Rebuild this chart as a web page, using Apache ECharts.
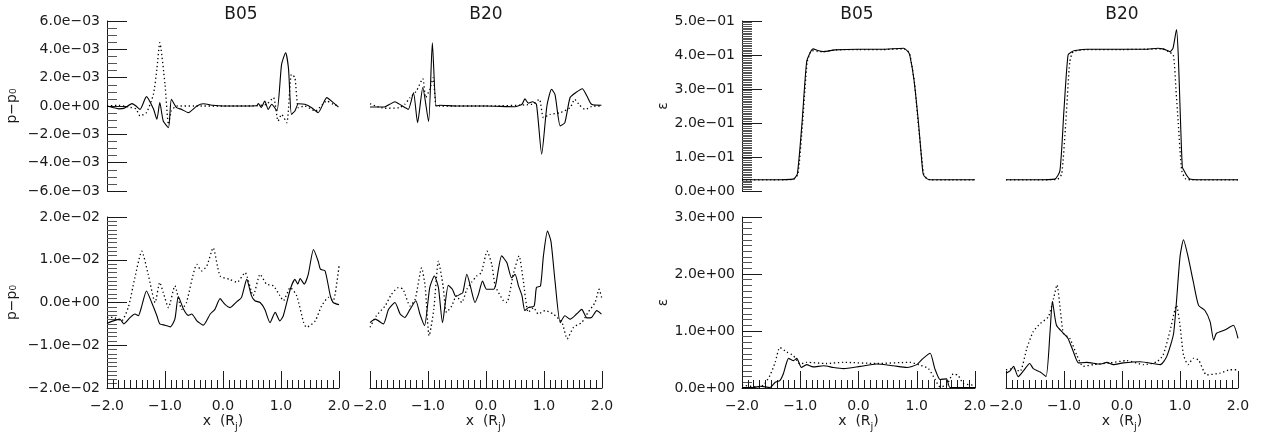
<!DOCTYPE html>
<html>
<head>
<meta charset="utf-8">
<script src="https://cdn.jsdelivr.net/npm/echarts@6/dist/echarts.min.js"></script>
<style>
html,body{margin:0;padding:0;background:#fff;}
#chart{width:1265px;height:441px;}
</style>
</head>
<body>
<div id="chart"></div>
<script>
// ---------- data (x in R_j, value) ----------
const panelTitles = ['B05', 'B20', 'B05', 'B20'];
const xTickLabels = ['−2.0', '−1.0', '0.0', '1.0', '2.0'];

// top row, p - p0
const b05TopPSolid = [[-2.0,0],[-1.9,-0.0001],[-1.8,-0.0002],[-1.7,-0.00015],[-1.57,0.00017],[-1.5,0],[-1.43,-0.00024],[-1.32,0.00066],[-1.2,-0.0002],[-1.14,-0.00094],[-1.09,0.00024],[-1.03,-0.00106],[-0.94,-0.00153],[-0.89,0.00047],[-0.8,-0.00012],[-0.71,-0.00024],[-0.6,-0.00047],[-0.45,0],[-0.34,0.00016],[-0.17,0.00005],[0.0,0],[0.3,0],[0.58,0.00002],[0.61,0.00017],[0.66,-0.0001],[0.72,0.00035],[0.78,-0.00024],[0.84,0.00012],[0.93,-0.00035],[1.01,0.00294],[1.08,0.00376],[1.13,0.0026],[1.18,-0.00059],[1.24,-0.00035],[1.3,0.00016],[1.41,0.00012],[1.53,-0.00012],[1.64,-0.00047],[1.79,0.00059],[1.9,0.00024],[1.99,-0.00007]];
const b05TopPDotted = [[-2.0,0],[-1.8,0.00005],[-1.6,-0.0001],[-1.5,-0.0002],[-1.43,-0.0007],[-1.32,-0.00047],[-1.2,0.00082],[-1.14,0.0026],[-1.09,0.00447],[-1.0,0.00153],[-0.94,-0.0013],[-0.89,-0.00035],[-0.8,0],[-0.5,0],[0,0],[0.5,0],[0.75,0.00012],[0.87,0.00059],[0.95,-0.00106],[1.01,-0.0006],[1.1,-0.00118],[1.18,0.00224],[1.24,0.002],[1.3,-0.00012],[1.41,0],[1.59,-0.00035],[1.79,0.00035],[1.9,0.00012],[1.99,0]];
const b20TopPSolid = [[-2.0,-0.00007],[-1.9,-0.00007],[-1.75,-0.00007],[-1.66,0.00012],[-1.57,0.0003],[-1.5,0.00015],[-1.4,-0.0001],[-1.34,-0.00024],[-1.25,0.00094],[-1.18,-0.00118],[-1.09,0.0013],[-0.99,-0.0011],[-0.925,0.00447],[-0.86,0],[-0.8,0.00005],[-0.5,0],[0,0],[0.5,-0.00005],[0.62,0.00012],[0.67,0.0005],[0.73,0.0002],[0.8,0.0003],[0.87,0.00012],[0.96,-0.0034],[1.05,0],[1.13,0.00118],[1.19,0.0008],[1.28,-0.0014],[1.36,-0.00117],[1.45,0.0006],[1.55,0.00095],[1.66,0.00122],[1.74,0.0007],[1.82,0.00012],[1.99,0.00005]];
const b20TopPDotted = [[-2.0,0.00016],[-1.9,0],[-1.75,-0.00016],[-1.5,-0.00012],[-1.4,0.00012],[-1.31,0.00059],[-1.2,0.00106],[-1.09,0.00193],[-1.04,0.00059],[-0.97,0.00118],[-0.91,0.002],[-0.86,0],[-0.8,0],[0,0],[0.8,0.00012],[0.92,0.00047],[0.99,-0.00082],[1.1,-0.0006],[1.28,-0.00047],[1.45,-0.00012],[1.53,0.00047],[1.6,0.00012],[1.71,-0.00024],[1.85,0],[1.99,0]];

// top row, epsilon
const b05TopESolid = [[-2.0,0.033],[-1.5,0.033],[-1.12,0.035],[-1.05,0.05],[-0.97,0.2],[-0.89,0.38],[-0.82,0.41],[-0.78,0.418],[-0.7,0.413],[-0.6,0.41],[-0.4,0.415],[0,0.417],[0.4,0.417],[0.77,0.42],[0.85,0.41],[0.88,0.40],[0.95,0.33],[1.03,0.2],[1.08,0.1],[1.11,0.05],[1.16,0.038],[1.23,0.033],[1.6,0.033],[2.0,0.033]];
const b05TopEDotted = [[-2.0,0.033],[-1.5,0.033],[-1.12,0.034],[-1.04,0.05],[-0.96,0.2],[-0.88,0.38],[-0.8,0.413],[-0.7,0.41],[-0.6,0.41],[-0.4,0.415],[0,0.416],[0.4,0.416],[0.78,0.418],[0.86,0.41],[0.89,0.395],[0.96,0.32],[1.03,0.19],[1.09,0.09],[1.12,0.05],[1.17,0.037],[1.23,0.033],[1.6,0.033],[2.0,0.033]];
const b20TopESolid = [[-2.0,0.033],[-1.5,0.033],[-1.16,0.035],[-1.07,0.06],[-1.0,0.24],[-0.93,0.40],[-0.86,0.41],[-0.81,0.413],[-0.6,0.417],[0,0.417],[0.4,0.417],[0.62,0.42],[0.7,0.418],[0.8,0.412],[0.83,0.41],[0.88,0.42],[0.94,0.475],[0.97,0.40],[1.0,0.25],[1.04,0.07],[1.07,0.06],[1.12,0.045],[1.17,0.035],[1.3,0.033],[2.0,0.033]];
const b20TopEDotted = [[-2.0,0.033],[-1.5,0.033],[-1.12,0.034],[-1.04,0.05],[-0.97,0.2],[-0.9,0.38],[-0.84,0.41],[-0.6,0.416],[0,0.416],[0.4,0.417],[0.7,0.418],[0.8,0.41],[0.885,0.40],[0.93,0.3],[0.97,0.2],[1.03,0.06],[1.1,0.035],[1.2,0.033],[2.0,0.033]];

// bottom row, p - p0
const b05BotPSolid = [[-2.0,-0.0049],[-1.89,-0.0043],[-1.78,-0.0039],[-1.71,-0.005],[-1.6,-0.0035],[-1.52,-0.0027],[-1.46,-0.0031],[-1.4,-0.0008],[-1.32,0.0027],[-1.23,0],[-1.14,-0.0031],[-1.09,-0.005],[-1.0,-0.0053],[-0.91,-0.0057],[-0.83,-0.0039],[-0.77,0.0014],[-0.68,-0.0016],[-0.6,-0.003],[-0.54,-0.0027],[-0.45,-0.0043],[-0.34,-0.0053],[-0.22,-0.0027],[-0.14,-0.0016],[-0.05,0.0009],[0.03,-0.0004],[0.12,-0.0012],[0.24,0.0002],[0.32,0.0012],[0.41,0.0054],[0.49,0.0016],[0.55,0.0004],[0.64,0],[0.72,-0.0016],[0.81,-0.0047],[0.9,-0.0023],[0.98,-0.0043],[1.04,-0.0031],[1.16,0.0031],[1.24,0.0054],[1.29,0.0043],[1.33,0.0056],[1.4,0.0043],[1.47,0.0066],[1.56,0.0124],[1.64,0.0097],[1.68,0.0078],[1.76,0.0074],[1.85,0.0016],[1.9,0],[2.0,-0.0005]];
const b05BotPDotted = [[-2.0,-0.0035],[-1.89,-0.0035],[-1.75,-0.0043],[-1.63,-0.001],[-1.52,0.0058],[-1.4,0.012],[-1.29,0.0066],[-1.17,0],[-1.09,0.0047],[-1.03,0.0023],[-0.94,-0.0012],[-0.83,0.0039],[-0.71,-0.0016],[-0.63,0],[-0.45,0.0089],[-0.37,0.0074],[-0.28,0.0085],[-0.17,0.0128],[-0.05,0.0062],[0.12,0.0054],[0.24,0.0047],[0.38,0.007],[0.52,0.0016],[0.64,0.0066],[0.75,0.0043],[0.87,0.0039],[0.98,0.0016],[1.04,0.0004],[1.16,0.0035],[1.27,0.0016],[1.39,-0.0047],[1.44,-0.0058],[1.59,-0.0043],[1.7,-0.0008],[1.82,0.0012],[1.9,0.0004],[2.0,0.0085]];
const b20BotPSolid = [[-2.0,-0.0047],[-1.91,-0.0039],[-1.77,-0.005],[-1.68,-0.0016],[-1.57,0],[-1.48,-0.0027],[-1.4,-0.0035],[-1.31,-0.0016],[-1.21,0.0004],[-1.14,-0.0027],[-1.06,-0.0054],[-0.97,0.0035],[-0.89,0.0062],[-0.82,0.0035],[-0.75,-0.0047],[-0.65,0.004],[-0.58,0.0031],[-0.52,0.0014],[-0.45,0.0019],[-0.4,0.0023],[-0.33,0.0066],[-0.26,0.0033],[-0.19,0],[-0.13,0.0019],[-0.06,0.005],[0.01,0.0031],[0.13,0.0031],[0.17,0.0043],[0.27,0.0109],[0.36,0.0093],[0.44,0.0058],[0.5,0.0066],[0.56,0.0039],[0.62,0.0016],[0.67,-0.0019],[0.73,-0.0012],[0.83,-0.0008],[0.87,0.0035],[0.94,0.0039],[0.99,0.0109],[1.06,0.0167],[1.12,0.0143],[1.19,0.005],[1.28,-0.0047],[1.36,-0.0031],[1.45,-0.0039],[1.56,-0.0027],[1.65,-0.0016],[1.74,-0.0036],[1.82,-0.0035],[1.91,-0.0019],[1.99,-0.0027]];
const b20BotPDotted = [[-2.0,-0.0058],[-1.89,-0.0031],[-1.74,-0.0008],[-1.63,0.0019],[-1.51,0.0035],[-1.43,0.0031],[-1.31,-0.0008],[-1.22,0.0008],[-1.11,0.0081],[-1.05,0.0039],[-0.98,-0.0078],[-0.9,-0.0016],[-0.82,0.0097],[-0.74,0.0039],[-0.68,-0.0023],[-0.59,-0.0008],[-0.51,0.0016],[-0.42,0],[-0.33,0.0031],[-0.25,0.0047],[-0.16,0.0062],[-0.08,0.007],[0.02,0.012],[0.1,0.0089],[0.16,0.0039],[0.3,0.0004],[0.36,0],[0.47,0.0066],[0.57,0.0109],[0.64,0.0054],[0.73,-0.0023],[0.82,-0.0012],[0.9,-0.0027],[1.02,-0.0019],[1.16,-0.0027],[1.31,-0.0047],[1.4,-0.0085],[1.51,-0.0058],[1.65,-0.0047],[1.76,-0.0023],[1.88,0],[1.95,0.0031],[2.0,0.0008]];

// bottom row, epsilon
const b05BotESolid = [[-2.0,0.01],[-1.8,0.01],[-1.69,0.03],[-1.52,0.01],[-1.43,0.1],[-1.35,0.13],[-1.29,0.25],[-1.2,0.52],[-1.12,0.48],[-1.06,0.52],[-0.98,0.36],[-0.89,0.41],[-0.78,0.37],[-0.6,0.39],[-0.43,0.36],[-0.26,0.34],[0.03,0.38],[0.31,0.42],[0.6,0.39],[0.83,0.36],[1.0,0.41],[1.11,0.52],[1.23,0.61],[1.31,0.34],[1.4,0.15],[1.51,0.16],[1.57,0.01],[2.0,0.01]];
const b05BotEDotted = [[-2.0,0.05],[-1.75,0.02],[-1.63,0.05],[-1.52,0.22],[-1.43,0.45],[-1.35,0.71],[-1.23,0.63],[-1.12,0.57],[-1.0,0.42],[-0.89,0.45],[-0.55,0.43],[-0.26,0.45],[0.31,0.43],[0.88,0.45],[1.06,0.4],[1.2,0.34],[1.31,0.16],[1.4,0.02],[1.51,0.05],[1.63,0.25],[1.71,0.22],[1.8,0.08],[1.97,0.05]];
const b20BotESolid = [[-2.0,0.26],[-1.93,0.3],[-1.87,0.38],[-1.79,0.2],[-1.7,0.3],[-1.59,0.43],[-1.53,0.34],[-1.41,0.28],[-1.31,0.2],[-1.24,0.99],[-1.2,1.52],[-1.13,1.1],[-1.01,0.96],[-0.93,0.87],[-0.84,0.64],[-0.75,0.44],[-0.61,0.45],[-0.38,0.42],[-0.26,0.45],[-0.15,0.41],[0.02,0.44],[0.31,0.46],[0.66,0.41],[0.77,0.55],[0.89,0.96],[1.0,2.3],[1.06,2.6],[1.14,2.3],[1.23,1.86],[1.32,1.45],[1.43,1.36],[1.52,1.16],[1.58,0.84],[1.63,0.96],[1.78,1.02],[1.92,1.1],[2.0,0.87]];
const b20BotEDotted = [[-2.0,0.32],[-1.87,0.34],[-1.76,0.29],[-1.64,0.7],[-1.53,0.99],[-1.41,1.13],[-1.27,1.25],[-1.18,1.57],[-1.12,1.81],[-1.07,1.43],[-1.01,0.96],[-0.9,0.87],[-0.78,0.58],[-0.67,0.38],[-0.49,0.41],[-0.21,0.44],[0.08,0.48],[0.37,0.41],[0.6,0.46],[0.71,0.58],[0.83,1.01],[0.94,1.45],[1.0,1.1],[1.06,0.58],[1.14,0.41],[1.23,0.52],[1.32,0.49],[1.46,0.23],[1.69,0.26],[1.86,0.32],[2.0,0.32]];

// ---------- layout ----------
const FONT = 'DejaVu Sans';
const INK = '#1a1a1a';
const colLeft = [107, 370, 742, 1006];
const colWidth = [232, 232, 233, 232];
const rowTop = [21, 217];
const rowHeight = [170, 171];
const titleX = [241, 486, 857, 1122];

const panelData = [
  [b05TopPSolid, b05TopPDotted], [b20TopPSolid, b20TopPDotted],
  [b05TopESolid, b05TopEDotted], [b20TopESolid, b20TopEDotted],
  [b05BotPSolid, b05BotPDotted], [b20BotPSolid, b20BotPDotted],
  [b05BotESolid, b05BotEDotted], [b20BotESolid, b20BotEDotted]
];

// y scales: [group][row]
const yScale = {
  p: [{min: -0.006, max: 0.006, interval: 0.002, minor: 4},
      {min: -0.02, max: 0.02, interval: 0.01, minor: 10}],
  e: [{min: 0, max: 0.5, interval: 0.1, minor: 20},
      {min: 0, max: 3, interval: 1, minor: 10}]
};

function expFmt(v) {
  if (Math.abs(v) < 1e-12) return '0.0e+00';
  const s = v.toExponential(1);
  const parts = s.split('e');
  const ei = parseInt(parts[1], 10);
  const m = parts[0].replace('-', '−');
  return m + 'e' + (ei < 0 ? '−' : '+') + String(Math.abs(ei)).padStart(2, '0');
}
function xFmt(v) {
  const idx = Math.round(v + 2);
  return xTickLabels[idx] !== undefined ? xTickLabels[idx] : '';
}

const grids = [], xAxes = [], yAxes = [], series = [];
for (let r = 0; r < 2; r++) {
  for (let c = 0; c < 4; c++) {
    const i = r * 4 + c;
    const group = c < 2 ? 'p' : 'e';
    const ys = yScale[group][r];
    grids.push({left: colLeft[c], top: rowTop[r], width: colWidth[c], height: rowHeight[r],
                containLabel: false, outerBoundsMode: 'none'});
    const showX = r === 1;
    xAxes.push({
      type: 'value', gridIndex: i, min: -2, max: 2, interval: 1, show: showX,
      axisLine: {show: true, onZero: false, lineStyle: {color: INK, width: 1}},
      axisTick: {show: true, inside: true, length: 17, lineStyle: {color: INK, width: 1}},
      minorTick: {show: true, splitNumber: 10, length: 8, lineStyle: {color: INK, width: 1}},
      splitLine: {show: false},
      axisLabel: {show: true, margin: 11, formatter: xFmt, color: INK, fontFamily: FONT, fontSize: 14,
                  showMinLabel: true, showMaxLabel: true},
      name: showX ? '{n|x  (R}{s|j}{n|)}' : '',
      nameLocation: 'middle', nameGap: 23,
      nameTextStyle: {color: INK, fontFamily: FONT, fontSize: 14,
        rich: {n: {fontSize: 14, fontFamily: FONT, color: INK},
               s: {fontSize: 10, fontFamily: FONT, color: INK, padding: [11, 0, 0, 0]}}}
    });
    const showY = c === 0 || c === 2;
    yAxes.push({
      type: 'value', gridIndex: i, min: ys.min, max: ys.max, interval: ys.interval, show: showY,
      axisLine: {show: true, onZero: false, lineStyle: {color: INK, width: 1}},
      axisTick: {show: true, inside: true, length: 20, lineStyle: {color: INK, width: 1}},
      minorTick: {show: true, splitNumber: ys.minor, length: 10, lineStyle: {color: '#555', width: 1}},
      splitLine: {show: false},
      axisLabel: {show: true, margin: 7, formatter: expFmt, color: INK, fontFamily: FONT, fontSize: 14,
                  showMinLabel: true, showMaxLabel: true},
      name: showY ? (group === 'p' ? 'p−p₀' : 'ε') : '',
      nameLocation: 'middle', nameRotate: 90,
      nameGap: group === 'p' ? 88 : 72,
      nameTextStyle: {color: INK, fontFamily: FONT, fontSize: 14}
    });
    const pd = panelData[i];
    series.push({
      type: 'line', xAxisIndex: i, yAxisIndex: i, data: pd[0], showSymbol: false, symbol: 'none',
      smooth: 0.2, lineStyle: {color: '#000', width: 1.1, type: 'solid'}, silent: true, clip: true
    });
    series.push({
      type: 'line', xAxisIndex: i, yAxisIndex: i, data: pd[1], showSymbol: false, symbol: 'none',
      smooth: 0.2, lineStyle: {color: '#000', width: 1.3, type: [1.3, 2.7]}, silent: true, clip: true
    });
  }
}

const graphics = panelTitles.map((t, k) => ({
  type: 'text', x: titleX[k], y: 15,
  style: {text: t, fill: INK, font: '17px "DejaVu Sans"', textAlign: 'center', textVerticalAlign: 'middle',
          align: 'center', verticalAlign: 'middle'}
}));

const chart = echarts.init(document.getElementById('chart'), null, {renderer: 'canvas'});
chart.setOption({
  animation: false,
  backgroundColor: '#fff',
  textStyle: {fontFamily: FONT},
  grid: grids, xAxis: xAxes, yAxis: yAxes, series: series,
  graphic: graphics
});
</script>
</body>
</html>
